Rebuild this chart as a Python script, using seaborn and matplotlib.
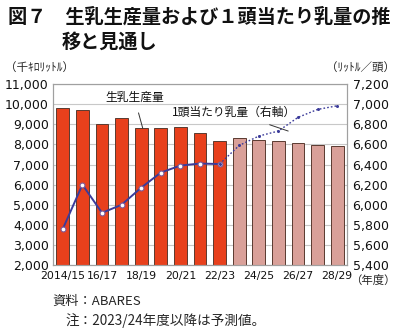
import numpy as np
import pandas as pd
import matplotlib
matplotlib.use("Agg")
import matplotlib.pyplot as plt
import seaborn as sns

years = ["2014/15", "15/16", "16/17", "17/18", "18/19", "19/20", "20/21", "21/22",
         "22/23", "23/24", "24/25", "25/26", "26/27", "27/28", "28/29"]
production = [9800, 9700, 9020, 9320, 8800, 8800, 8850, 8560, 8150,
              8300, 8220, 8170, 8090, 7960, 7930]
per_cow_actual = [5760, 6200, 5920, 6000, 6170, 6320, 6390, 6410, 6405]
per_cow_forecast = [6405, 6590, 6683, 6733, 6869, 6948, 6984]
status = ["実績"] * 9 + ["予測"] * 6

sns.set_theme(style="white")
plt.rcParams["font.family"] = ["Noto Sans CJK JP", "DejaVu Sans"]

df = pd.DataFrame({"year": years, "production": production, "status": status})

fig = plt.figure(figsize=(4.0, 3.31), dpi=100)
ax = fig.add_axes([0.1325, 0.199, 0.735, 0.547])

sns.barplot(data=df, x="year", y="production", hue="status",
            palette={"実績": "#E8401C", "予測": "#D9A099"}, saturation=1,
            dodge=False, width=0.65, edgecolor="#5a3a30", linewidth=0.7,
            legend=False, ax=ax, zorder=2)

ax.set_ylim(2000, 11000)
ax.set_xlim(-0.5, len(years) - 0.5)
ax.set_yticks(np.arange(2000, 11001, 1000))
ax.set_yticklabels([f"{v:,}" for v in range(2000, 11001, 1000)],
                   family="DejaVu Sans", fontsize=9, color="#111111")
ax.yaxis.grid(True, color="#c8c8c8", linewidth=0.8, zorder=0)
ax.set_axisbelow(True)
ax.set_xlabel("")
ax.set_ylabel("")

ax.set_xticks(range(0, len(years), 2))
ax.set_xticklabels(years[::2], family="DejaVu Sans", fontsize=7.8, color="#111111")
ax.set_xticks(np.arange(-0.5, len(years), 1), minor=True)
ax.tick_params(axis="x", which="major", length=0, pad=4)
ax.tick_params(axis="x", which="minor", length=3, color="#888888", direction="out")
ax.tick_params(axis="y", length=0, pad=3)

ax2 = ax.twinx()
xa = np.arange(len(per_cow_actual))
xf = np.arange(len(per_cow_actual) - 1, len(years))
sns.lineplot(x=xa, y=per_cow_actual, ax=ax2, color="#3b3b9a", linewidth=1.4,
             marker="o", markersize=3.5, markerfacecolor="white",
             markeredgecolor="#7a5a9a", markeredgewidth=0.8, zorder=3)
sns.lineplot(x=xf, y=per_cow_forecast, ax=ax2, color="#3b3b9a", linewidth=1.0,
             linestyle=(0, (1.2, 1.5)), marker="o", markersize=2.2,
             markeredgewidth=0, markerfacecolor="#3b3b9a", zorder=3)
ax2.set_ylim(5400, 7200)
ax2.set_yticks(np.arange(5400, 7201, 200))
ax2.set_yticklabels([f"{v:,}" for v in range(5400, 7201, 200)],
                    family="DejaVu Sans", fontsize=9, color="#111111")
ax2.tick_params(axis="y", length=0, pad=4)
ax2.set_ylabel("")
ax2.grid(False)

for a in (ax, ax2):
    for s in a.spines.values():
        s.set_color("#a0a0a0")
        s.set_linewidth(0.8)

# leader annotations
ax.annotate("生乳生産量", xy=(4.08, production[4]), xytext=(3.65, 10320),
            fontsize=8.5, ha="center", va="center", color="#111111",
            arrowprops=dict(arrowstyle="-", color="#333333", lw=0.7,
                            shrinkA=4, shrinkB=0))
ax2.annotate("1頭当たり乳量（右軸）", xy=(11.5, per_cow_forecast[3]), xytext=(8.75, 6915),
             fontsize=8.5, ha="center", va="center", color="#111111",
             arrowprops=dict(arrowstyle="-", color="#333333", lw=0.7,
                             shrinkA=5, shrinkB=0))

fig.text(0.02, 0.948, "図７　生乳生産量および１頭当たり乳量の推", fontsize=13.8,
         fontweight="bold", ha="left", va="center", color="#111111")
fig.text(0.155, 0.873, "移と見通し", fontsize=13.8, fontweight="bold",
         ha="left", va="center", color="#111111")
fig.text(0.012, 0.797, "（千ｷﾛﾘｯﾄﾙ）", fontsize=8.3, ha="left", va="center")
fig.text(0.988, 0.797, "（ﾘｯﾄﾙ／頭）", fontsize=8.3, ha="right", va="center")
fig.text(0.99, 0.152, "（年度）", fontsize=8.2, ha="right", va="center")
fig.text(0.13, 0.09, "資料：ABARES", fontsize=9.5, ha="left", va="center")
fig.text(0.165, 0.033, "注：2023/24年度以降は予測値。", fontsize=9.8, ha="left", va="center")

fig.savefig("out.png", dpi=100)
